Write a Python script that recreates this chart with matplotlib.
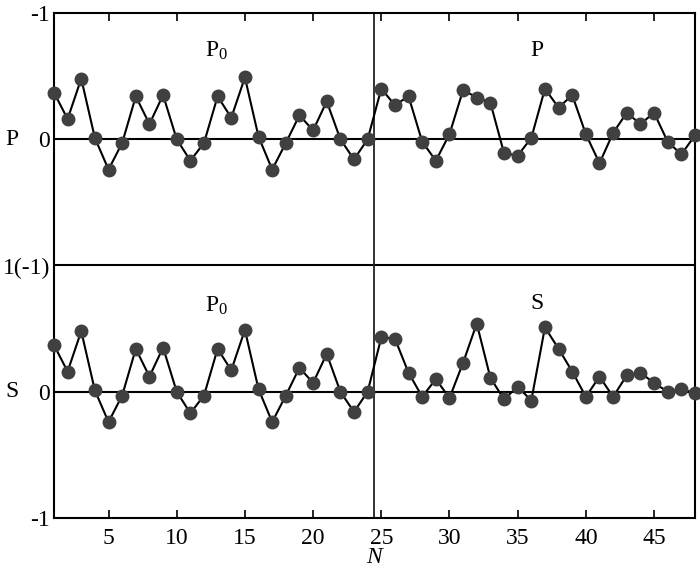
import matplotlib
matplotlib.use("Agg")
import matplotlib.pyplot as plt
import numpy as np

plt.rcParams['font.family'] = ['Liberation Serif', 'DejaVu Serif']
plt.rcParams['mathtext.fontset'] = 'custom'
plt.rcParams['mathtext.rm'] = 'Liberation Serif'
plt.rcParams['mathtext.it'] = 'Liberation Serif:italic'

# data (up = positive in each panel)
N = np.arange(1, 49)
p0 = [0.37, 0.16, 0.48, 0.01, -0.24, -0.03, 0.34, 0.12, 0.35, 0.0, -0.17, -0.03,
      0.34, 0.17, 0.49, 0.02, -0.24, -0.03, 0.19, 0.07, 0.30, 0.0, -0.16, 0.0]
p = [0.40, 0.27, 0.34, -0.02, -0.17, 0.04, 0.39, 0.33, 0.29, -0.11, -0.13, 0.01,
     0.40, 0.25, 0.35, 0.04, -0.19, 0.05, 0.21, 0.12, 0.21, -0.02, -0.12, 0.03]
s = [0.43, 0.42, 0.15, -0.04, 0.10, -0.05, 0.23, 0.54, 0.11, -0.06, 0.04, -0.07,
     0.51, 0.34, 0.16, -0.04, 0.12, -0.04, 0.13, 0.15, 0.07, 0.0, 0.02, -0.01]

ytick_pos = [2, 1, 0, -1, -2]
ytick_lab = ['-1', '0', '1(-1)', '0', '-1']
xtick_pos = [5, 10, 15, 20, 25, 30, 35, 40, 45]

fig = plt.figure(figsize=(7, 5.77), dpi=100)
ax = fig.add_axes([0.0771, 0.1023, 0.9157, 0.8752])

top = 1 + np.array(p0 + p)
bot = -1 + np.array(p0 + s)

ax.axhline(1, color='black', lw=1.5)
ax.axhline(-1, color='black', lw=1.5)
ax.axhline(0, color='black', lw=1.5)
ax.axvline(24.5, color='#222222', lw=1.3)

for y in [top, bot]:
    ax.plot(N, y, color='black', lw=1.5, zorder=3)
    ax.plot(N, y, 'o', color='#404040', ms=9, mec='#404040', zorder=4,
            clip_on=False)

fs = 17
ax.set_xlim(1, 48)
ax.set_ylim(-2, 2)
ax.set_xticks(xtick_pos)
ax.set_xticklabels([str(v) for v in xtick_pos])
ax.set_yticks(ytick_pos)
ax.set_yticklabels(ytick_lab)
ax.tick_params(axis='x', direction='in', top=True, bottom=True, length=6,
               width=1.2, labelsize=fs, pad=7)
ax.tick_params(axis='y', length=0, labelsize=fs, pad=3)
for sp in ax.spines.values():
    sp.set_linewidth(1.5)

ax.text(12.9, 1.70, r'P$_0$', fontsize=fs, ha='center', va='center')
ax.text(36.4, 1.70, 'P', fontsize=fs, ha='center', va='center')
ax.text(12.9, -0.32, r'P$_0$', fontsize=fs, ha='center', va='center')
ax.text(36.4, -0.30, 'S', fontsize=fs, ha='center', va='center')

ax.text(-0.066, 1, 'P', fontsize=fs, ha='center', va='center',
        transform=ax.get_yaxis_transform())
ax.text(-0.066, -1, 'S', fontsize=fs, ha='center', va='center',
        transform=ax.get_yaxis_transform())

ax.set_xlabel('N', fontsize=fs, style='italic', labelpad=-1)

fig.savefig('out.png', dpi=100)
